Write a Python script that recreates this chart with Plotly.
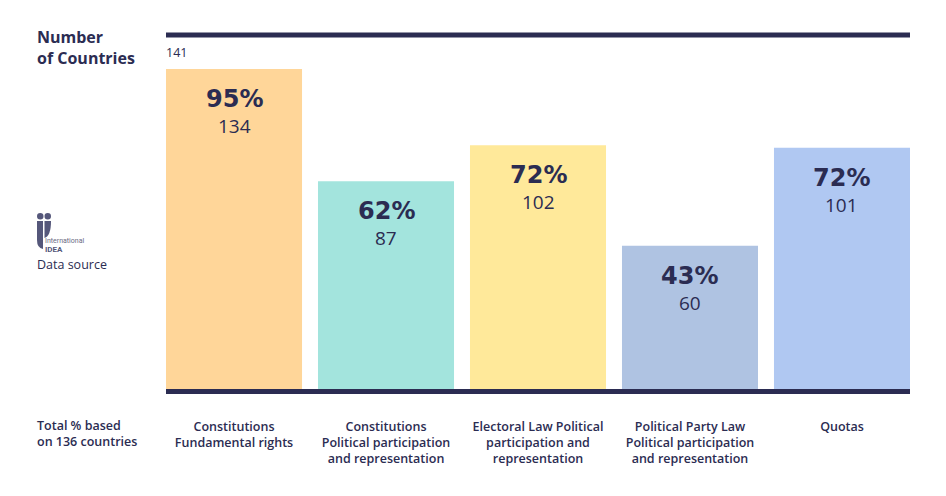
import plotly.graph_objects as go

# data
categories = ["Constitutions<br>Fundamental rights",
              "Constitutions<br>Political participation<br>and representation",
              "Electoral Law Political<br>participation and<br>representation",
              "Political Party Law<br>Political participation<br>and representation",
              "Quotas"]
countries = [134, 87, 102, 60, 101]
percent = [95, 62, 72, 43, 72]
total = 141
colors = ["#FFD699", "#A3E4DD", "#FFE99A", "#AFC3E2", "#B0C8F2"]

# page is drawn with an 8px body margin, so the figure is a bit smaller
OFF = 8
W, H = 946 - OFF, 496 - OFF
L, R, T, B = 166, 910, 35, 389  # plot area in page pixels
navy = "#2B2C52"
font = "Open Sans"


def px(x):
    return (x - L) / (R - L)


def py(y):
    return (B - y) / (B - T)


fig = go.Figure(go.Bar(
    x=list(range(len(categories))), y=countries,
    marker=dict(color=colors, line=dict(width=0)),
    width=0.895, hoverinfo="skip"))

ann = []
for i, (v, p) in enumerate(zip(countries, percent)):
    ann.append(dict(x=i, y=v, text=f"<b>{p}%</b>", showarrow=False, yanchor="middle",
                    yshift=-30, font=dict(size=24, color=navy, family="DejaVu Sans")))
    ann.append(dict(x=i, y=v, text=str(v), showarrow=False, yanchor="middle",
                    yshift=-57, font=dict(size=19, color=navy, family=font)))

ann += [
    dict(xref="paper", yref="paper", x=px(35), y=py(47), xanchor="left", yanchor="middle",
         text="<b>Number<br>of Countries</b>", align="left", showarrow=False,
         font=dict(size=16, color=navy, family=font)),
    dict(xref="paper", yref="paper", x=px(164), y=py(53), xanchor="left", yanchor="middle",
         text=str(total), showarrow=False, font=dict(size=12.5, color=navy, family=font)),
    dict(xref="paper", yref="paper", x=px(35), y=py(264), xanchor="left", yanchor="middle",
         text="Data source", showarrow=False, font=dict(size=12.5, color=navy, family=font)),
    dict(xref="paper", yref="paper", x=px(35), y=py(433), xanchor="left", yanchor="middle",
         text="Total % based<br>on 136 countries", align="left", showarrow=False,
         font=dict(size=12.5, color=navy, family=font, weight=600)),
    dict(xref="paper", yref="paper", x=px(43), y=py(241), xanchor="left", yanchor="middle",
         text="International", showarrow=False, font=dict(size=7, color="#6A6C84", family="Roboto")),
    dict(xref="paper", yref="paper", x=px(43), y=py(249), xanchor="left", yanchor="middle",
         text="<b>IDEA</b>", showarrow=False, font=dict(size=8, color="#55577A", family="Roboto")),
]

logo = "#55577A"
shapes = [
    dict(type="line", xref="paper", yref="paper", x0=0, x1=1, y0=1, y1=1,
         line=dict(color=navy, width=5)),
    dict(type="line", xref="paper", yref="paper", x0=0, x1=1, y0=py(391.5), y1=py(391.5),
         line=dict(color=navy, width=5)),
    # logo
    dict(type="circle", xref="paper", yref="paper", x0=px(37), x1=px(43.5), y0=py(213), y1=py(219.5),
         fillcolor=logo, line=dict(width=0)),
    dict(type="circle", xref="paper", yref="paper", x0=px(44.5), x1=px(51), y0=py(213), y1=py(219.5),
         fillcolor=logo, line=dict(width=0)),
    dict(type="path", xref="paper", yref="paper",
         path=(f"M {px(37)},{py(221)} L {px(43)},{py(221)} L {px(43)},{py(249)} "
               f"Q {px(37)},{py(248)} {px(37)},{py(240)} Z"),
         fillcolor=logo, line=dict(width=0)),
    dict(type="path", xref="paper", yref="paper",
         path=(f"M {px(44.5)},{py(221)} L {px(51)},{py(221)} "
               f"Q {px(51)},{py(236)} {px(44.5)},{py(238)} Z"),
         fillcolor=logo, line=dict(width=0)),
]

fig.update_layout(
    width=W, height=H,
    margin=dict(l=L - OFF, r=W - (R - OFF), t=T - OFF, b=H - (B - OFF), pad=0),
    paper_bgcolor="white", plot_bgcolor="white",
    showlegend=False,
    annotations=ann, shapes=shapes,
    xaxis=dict(range=[-0.4475, 4.4475], tickmode="array", tickvals=list(range(len(categories))),
               ticktext=categories, showgrid=False, zeroline=False, showline=False, ticks="",
               ticklabelstandoff=28,
               tickfont=dict(size=12.5, color=navy, family=font, weight=600), fixedrange=True),
    yaxis=dict(range=[0, 148.2], visible=False, fixedrange=True),
)

fig.write_html("out.html")
